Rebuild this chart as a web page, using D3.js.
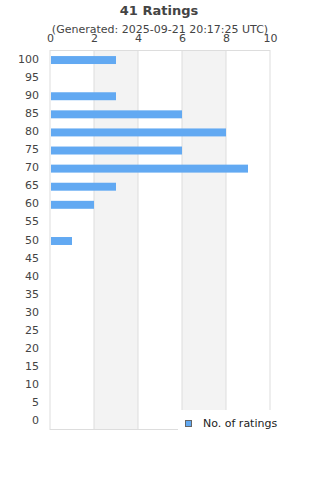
<!DOCTYPE html>
<html>
<head>
<meta charset="utf-8">
<script src="https://cdn.jsdelivr.net/npm/d3@7"></script>
<style>
  body { margin: 0; background: #fff; }
  text { font-family: 'DejaVu Sans', sans-serif; fill: #444; }
</style>
</head>
<body>
<div class="chart"></div>
<script>
const ratings = ['100', '95', '90', '85', '80', '75', '70', '65', '60', '55', '50',
  '45', '40', '35', '30', '25', '20', '15', '10', '5', '0']
const counts = [3, 0, 3, 6, 8, 6, 9, 3, 2, 0, 1, 0, 0, 0, 0, 0, 0, 0, 0, 0, 0]
const xTicks = [0, 2, 4, 6, 8, 10]
const title = '41 Ratings'
const subtitle = '(Generated: 2025-09-21 20:17:25 UTC)'
const seriesName = 'No. of ratings'

const margin = { top: 50, right: 50, bottom: 50, left: 50 }
const width = 320 - margin.left - margin.right
const height = 480 - margin.top - margin.bottom

const svg = d3.select('.chart')
  .append('svg')
  .attr('width', 320)
  .attr('height', 480)

svg.append('text')
  .attr('x', 159)
  .attr('y', 15)
  .attr('text-anchor', 'middle')
  .style('font-size', '13px')
  .style('font-weight', 'bold')
  .text(title)

svg.append('text')
  .attr('x', 160)
  .attr('y', 33)
  .attr('text-anchor', 'middle')
  .style('font-size', '11px')
  .text(subtitle)

const g = svg.append('g')
  .attr('transform', `translate(${margin.left},${margin.top})`)

const xScale = d3.scaleLinear()
  .domain([0, 10])
  .range([0, width])
const yScale = d3.scaleBand()
  .domain(ratings)
  .range([0, height])
  .paddingInner(0.56)
  .paddingOuter(0.28)

// alternating bands
g.selectAll('.band')
  .data(xTicks.slice(0, -1).filter((d, i) => i % 2 === 1))
  .enter()
  .append('rect')
  .attr('x', d => xScale(d))
  .attr('y', 0)
  .attr('width', d => xScale(d + 2) - xScale(d))
  .attr('height', height)
  .attr('fill', '#f3f3f3')

g.selectAll('.grid')
  .data(xTicks)
  .enter()
  .append('line')
  .attr('x1', d => xScale(d))
  .attr('x2', d => xScale(d))
  .attr('y1', 0)
  .attr('y2', height)
  .attr('stroke', '#ddd')
  .attr('stroke-width', 1)

g.append('line')
  .attr('x1', 0).attr('x2', width)
  .attr('y1', 0.5).attr('y2', 0.5)
  .attr('stroke', '#ddd')
g.append('line')
  .attr('x1', 0).attr('x2', width)
  .attr('y1', height - 0.5).attr('y2', height - 0.5)
  .attr('stroke', '#ddd')

g.selectAll('.bar')
  .data(counts)
  .enter()
  .append('rect')
  .attr('class', 'bar')
  .attr('x', xScale(0) + 1)
  .attr('y', (d, i) => yScale(ratings[i]) + 1)
  .attr('width', d => Math.max(0, xScale(d) - xScale(0) - 1))
  .attr('height', yScale.bandwidth())
  .attr('fill', '#62a9f2')

const xAxis = d3.axisTop(xScale).tickValues(xTicks).tickSize(0).tickPadding(8)
g.append('g')
  .call(xAxis)
  .call(s => s.select('.domain').remove())
  .selectAll('text')
  .style('font-size', '11px')
  .style('font-family', "'DejaVu Sans', sans-serif")
  .attr('fill', '#444')

const yAxis = d3.axisLeft(yScale).tickSize(0).tickPadding(11)
g.append('g')
  .call(yAxis)
  .call(s => s.select('.domain').remove())
  .selectAll('text')
  .style('font-size', '11px')
  .style('font-family', "'DejaVu Sans', sans-serif")
  .attr('fill', '#444')

// legend
const legend = svg.append('g')
legend.append('rect')
  .attr('x', 178)
  .attr('y', 410)
  .attr('width', 142)
  .attr('height', 30)
  .attr('fill', '#fff')
legend.append('rect')
  .attr('x', 185.5)
  .attr('y', 420.5)
  .attr('width', 6)
  .attr('height', 6)
  .attr('fill', '#62a9f2')
  .attr('stroke', '#666')
legend.append('text')
  .attr('x', 203)
  .attr('y', 427)
  .style('font-size', '11px')
  .style('fill', '#222')
  .text(seriesName)
</script>
</body>
</html>
